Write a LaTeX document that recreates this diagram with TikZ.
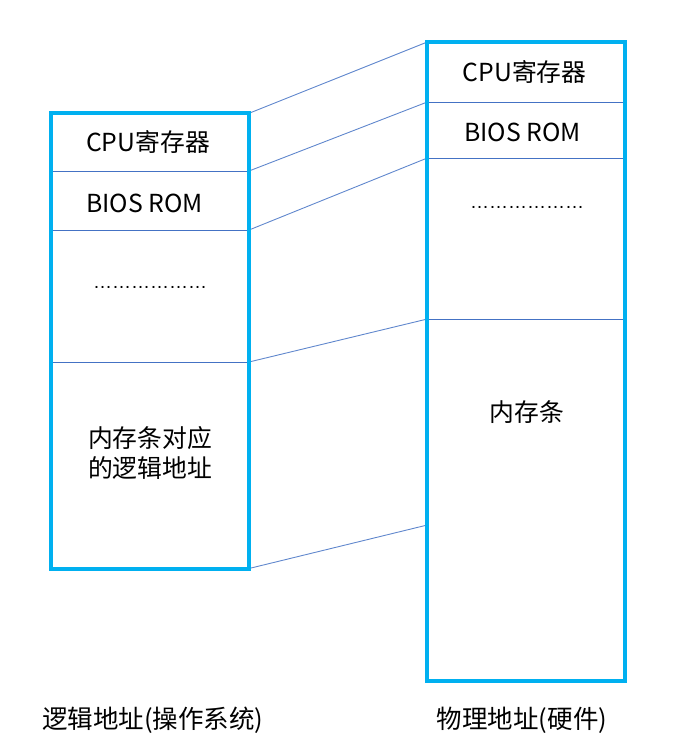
\documentclass[tikz,border=0pt]{standalone}
\usepackage{fontspec}
\setmainfont{Noto Sans CJK SC}
\newfontfamily\dotfont{Liberation Sans}
\definecolor{boxcyan}{RGB}{0,176,240}
\definecolor{lineblue}{RGB}{68,114,196}
\begin{document}
\begin{tikzpicture}[x=1pt,y=-1pt,
  memframe/.style={draw=boxcyan,line width=4pt,rectangle,inner sep=0pt,outer sep=0pt},
  divider/.style={draw=lineblue,line width=1pt},
  link/.style={draw=lineblue!85,line width=0.9pt},
  lbl/.style={font=\fontsize{24.8}{30}\selectfont,inner sep=0pt,align=center},
  captext/.style={font=\fontsize{25.5}{30}\selectfont,inner sep=0pt},
  dots/.style={font=\dotfont\fontsize{19}{20}\selectfont,inner sep=0pt}]
\useasboundingbox (0,0) rectangle (688,748);
% coordinates of the left box
\coordinate (L0) at (50.7,113.3);
\coordinate (L0r) at (249,113.3);
\coordinate (L1l) at (50.7,171);
\coordinate (L1r) at (249,171);
\coordinate (L2l) at (50.7,230);
\coordinate (L2r) at (249,230);
\coordinate (L3l) at (50.7,362);
\coordinate (L3r) at (249,362);
\coordinate (L4r) at (249,568.5);
% coordinates of the right box
\coordinate (R0l) at (427.3,42);
\coordinate (R1l) at (427.3,102);
\coordinate (R1r) at (624.5,102);
\coordinate (R2l) at (427.3,158);
\coordinate (R2r) at (624.5,158);
\coordinate (R3l) at (427.3,319);
\coordinate (R3r) at (624.5,319);
\coordinate (R4l) at (427.3,525);
% dividers
\draw[divider] (L1l) -- (L1r);
\draw[divider] (L2l) -- (L2r);
\draw[divider] (L3l) -- (L3r);
\draw[divider] (R1l) -- (R1r);
\draw[divider] (R2l) -- (R2r);
\draw[divider] (R3l) -- (R3r);
% connectors
\draw[link] (L0r) -- (R0l);
\draw[link] (L1r) -- (R1l);
\draw[link] (L2r) -- (R2l);
\draw[link] (L3r) -- (R3l);
\draw[link] (L4r) -- (R4l);
% frames
\node[memframe,minimum width=198.3pt,minimum height=455.2pt] (L) at (149.85,340.9) {};
\node[memframe,minimum width=197.2pt,minimum height=638.5pt] (R) at (525.9,361.25) {};
% texts left
\node[lbl] (lcpu) at (148,142) {CPU寄存器};
\node[lbl] (lbios) at (144.5,203) {BIOS ROM};
\node[dots] (ldots) at (150,287) {………………};
\node[lbl] (lmem) at (150,453) {内存条对应\\的逻辑地址};
% texts right
\node[lbl] (rcpu) at (524.5,72) {CPU寄存器};
\node[lbl] (rbios) at (522.5,132) {BIOS ROM};
\node[dots] (rdots) at (527,207) {………………};
\node[lbl] (rmem) at (527,412) {内存条};
% captions
\node[captext] (lcap) at (153,720) {逻辑地址(操作系统)};
\node[captext] (rcap) at (522,720) {物理地址(硬件)};
\end{tikzpicture}
\end{document}
